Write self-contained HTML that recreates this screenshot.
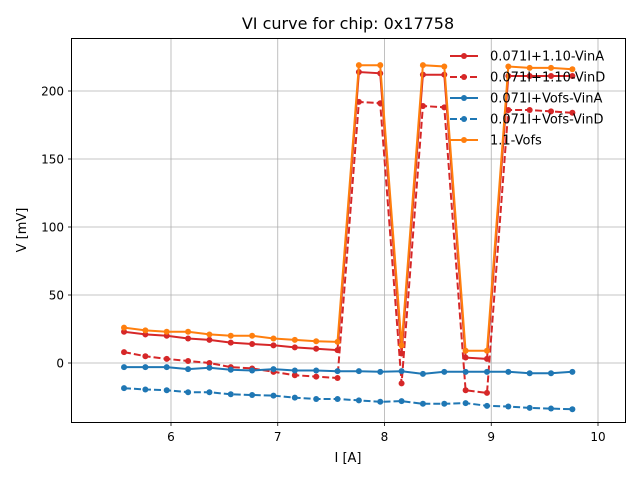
<!DOCTYPE html>
<html><head><meta charset="utf-8"><style>
body{margin:0;background:#fff}
svg{display:block;font-family:"DejaVu Sans","Liberation Sans",sans-serif}
</style></head><body>
<svg id="chart" width="640" height="480" viewBox="0 0 640 480">
<text x="348" y="29" font-size="16" text-anchor="middle" fill="#000">VI curve for chip: 0x17758</text>
<g id="grid"></g>
<g id="series"></g>
<rect x="71.5" y="38.5" width="554" height="384" fill="none" stroke="#000" stroke-width="1"/>
<g id="ticks"></g>
<text x="348" y="462" font-size="13" text-anchor="middle">I [A]</text>
<text x="26" y="230" font-size="13" text-anchor="middle" transform="rotate(-90 26 230)">V [mV]</text>
<g id="legend"></g>
</svg>
<script>
const currents=[5.56,5.76,5.96,6.16,6.36,6.56,6.76,6.96,7.16,7.36,7.56,7.76,7.96,8.16,8.36,8.56,8.76,8.96,9.16,9.36,9.56,9.76];
const vinA110=[23,21,20,18,17,15,14,13,11.5,10.5,9.5,214,213,7,212,212,4,3,211,211,211,211];
const vinD110=[8,5,3,1.5,0,-3,-4,-6.5,-9,-10,-11,192,191,-15,189,188,-20,-22,186,186,185,184];
const vinAVofs=[-3,-3,-3,-4.5,-3.5,-5,-5.5,-4.5,-5.5,-5.5,-6,-6,-6.5,-6,-8,-6.5,-6.5,-6.5,-6.5,-7.5,-7.5,-6.5];
const vinDVofs=[-18.5,-19.5,-20,-21.5,-21.5,-23,-23.5,-24,-25.5,-26.5,-26.5,-27.5,-28.5,-28,-30,-30,-29.5,-31.5,-32,-33,-33.5,-34];
const vofs11=[26,24,23,23,21,20,20,18,17,16,15.5,219,219,13,219,218,9,9,218,217,217,216];
const xTicks=[6,7,8,9,10];
const yTicks=[0,50,100,150,200];
const seriesNames=["0.071I+1.10-VinA","0.071I+1.10-VinD","0.071I+Vofs-VinA","0.071I+Vofs-VinD","1.1-Vofs"];

const NS="http://www.w3.org/2000/svg";
function xS(v){return 171+(v-6)*106.75;}
function yS(v){return 363-v*1.36;}
function mk(t,a,p){const e=document.createElementNS(NS,t);for(const k in a)e.setAttribute(k,a[k]);p.appendChild(e);return e;}
const grid=document.getElementById('grid'),ticks=document.getElementById('ticks');
xTicks.forEach(t=>{const x=xS(t);
 const g=mk('line',{x1:x,x2:x,y1:38.5,y2:422.5,stroke:'#b0b0b0','stroke-width':0.8},grid);
 
 
 const tk=mk('line',{x1:x,x2:x,y1:422.5,y2:426,stroke:'#000','stroke-width':0.8},ticks);
 
 
 const tx=mk('text',{x:x,y:441,'font-size':12,'text-anchor':'middle'},ticks);tx.textContent=t;
 
 
});
yTicks.forEach(t=>{const y=yS(t);
 const g=mk('line',{x1:71.5,x2:625.5,y1:y,y2:y,stroke:'#b0b0b0','stroke-width':0.8},grid);
 
 
 const tk=mk('line',{x1:68,x2:71.5,y1:y,y2:y,stroke:'#000','stroke-width':0.8},ticks);
 
 
 const tx=mk('text',{x:64,y:y+4.5,'font-size':12,'text-anchor':'end'},ticks);tx.textContent=t;
 
 
});
const defs=[[vinA110,'#d62728',false],[vinD110,'#d62728',true],[vinAVofs,'#1f77b4',false],[vinDVofs,'#1f77b4',true],[vofs11,'#ff7f0e',false]];
const sg=document.getElementById('series');
defs.forEach((d,i)=>{
 const g=mk('g',{},sg);
 
 
 const pts=d[0].map((v,j)=>xS(currents[j]).toFixed(1)+','+yS(v).toFixed(1)).join(' ');
 const a={points:pts,fill:'none',stroke:d[1],'stroke-width':2};
 if(d[2])a['stroke-dasharray']='7,3';
 const pl=mk('polyline',a,g);
 
 
 d[0].forEach((v,j)=>{const c=mk('circle',{cx:xS(currents[j]),cy:yS(v),r:3,fill:d[1]},g);
  
  });
});
const lg=document.getElementById('legend');
defs.forEach((d,i)=>{const y=56+i*21;
 const a={x1:450,x2:478,y1:y,y2:y,stroke:d[1],'stroke-width':2};
 if(d[2])a['stroke-dasharray']='7,3';
 const l=mk('line',a,lg);
 
 
 const c=mk('circle',{cx:464,cy:y,r:3,fill:d[1]},lg);
 
 
 const t=mk('text',{x:490,y:y+4.5,'font-size':13},lg);t.textContent=seriesNames[i];
 
 
});
</script>
</body></html>
